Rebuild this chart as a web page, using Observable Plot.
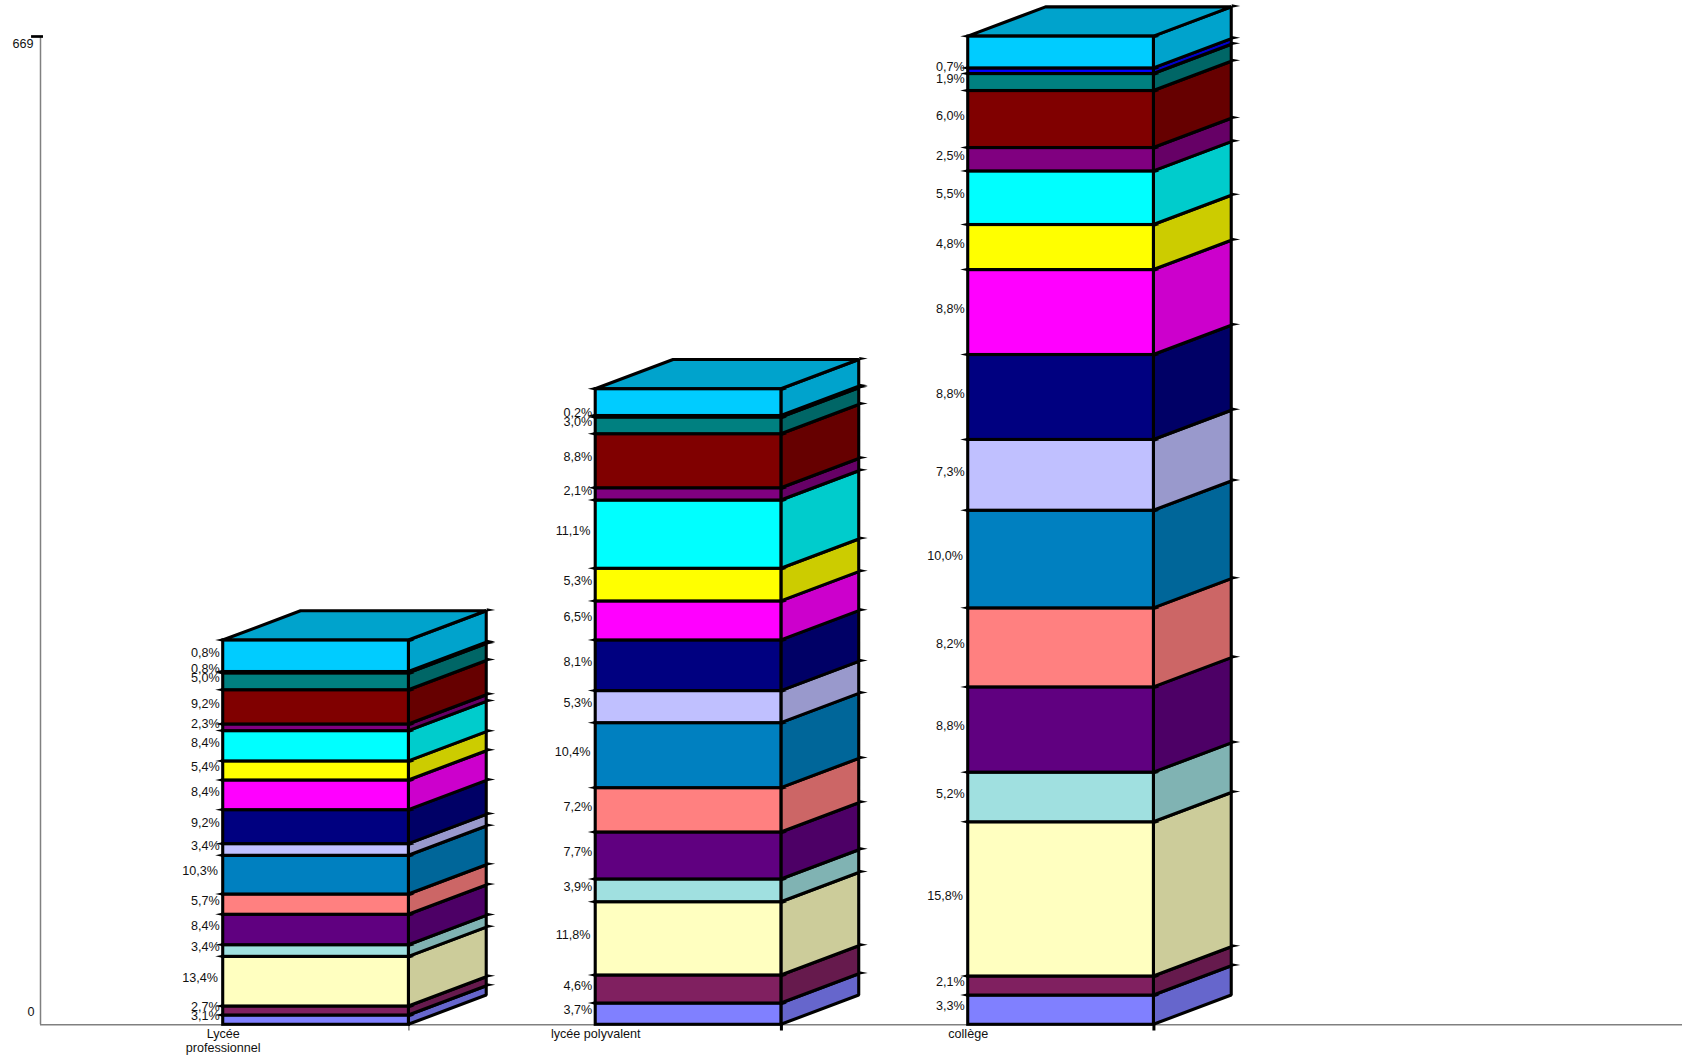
<!DOCTYPE html>
<html lang="fr">
<head>
<meta charset="utf-8">
<title>Effectifs par établissement</title>
<style>
html, body { margin: 0; padding: 0; background: #fff; }
svg { display: block; }
</style>
<script src="https://cdn.jsdelivr.net/npm/d3@7"></script>
<script src="https://cdn.jsdelivr.net/npm/@observablehq/plot@0.6"></script>
</head>
<body>
<div id="chart"></div>
<script>
// Data, bottom of the stack first
const categories = ["Lycée\nprofessionnel", "lycée polyvalent", "collège"];
const lyceeProValues = [6.3, 6.1, 33.6, 7.9, 20.6, 13.7, 26.2, 7.9, 23, 20.1, 12.9, 20.5, 4.5, 23.2, 11.4, 0.9, 21.3];
const lyceePolyValues = [14.4, 19, 49.6, 15.4, 31.8, 30, 44, 21.7, 34.3, 26.4, 22.1, 46.2, 8.3, 36.6, 11.3, 1, 18.1];
const collegeValues = [19.8, 12.9, 104.4, 33.6, 57.7, 53.5, 66.1, 47.9, 57.5, 57.5, 30.5, 36.3, 15.8, 38.6, 11.5, 3.8, 21.5];
const lyceeProLabels = ["3,1%", "2,7%", "13,4%", "3,4%", "8,4%", "5,7%", "10,3%", "3,4%", "9,2%", "8,4%", "5,4%", "8,4%", "2,3%", "9,2%", "5,0%", "0,8%", "0,8%"];
const lyceePolyLabels = ["3,7%", "4,6%", "11,8%", "3,9%", "7,7%", "7,2%", "10,4%", "5,3%", "8,1%", "6,5%", "5,3%", "11,1%", "2,1%", "8,8%", "3,0%", "0,2%", ""];
const collegeLabels = ["3,3%", "2,1%", "15,8%", "5,2%", "8,8%", "8,2%", "10,0%", "7,3%", "8,8%", "8,8%", "4,8%", "5,5%", "2,5%", "6,0%", "1,9%", "0,7%", ""];
const frontColors = ["#8080FF", "#802060", "#FFFFC0", "#A0E0E0", "#600080", "#FF8080", "#0080C0", "#C0C0FF", "#000080", "#FF00FF", "#FFFF00", "#00FFFF", "#800080", "#800000", "#008080", "#0000FF", "#00CCFF"];
const sideColors = ["#6666CC", "#661A4D", "#CCCC9A", "#80B3B3", "#4D0066", "#CC6666", "#006699", "#9999CC", "#000066", "#CC00CC", "#CCCC00", "#00CCCC", "#660066", "#660000", "#006666", "#0000CC", "#00A3CC"];
const yTicks = [0, 669];

// Layout, in scale units
const slotCount = 4.408, barOffset = 0.4905, barWidth = 0.4985, depthX = 0.2089, depthY = 19.8;

const allValues = [lyceeProValues, lyceePolyValues, collegeValues];
const allLabels = [lyceeProLabels, lyceePolyLabels, collegeLabels];

const segments = allValues.flatMap((values, c) => {
  let sum = 0;
  return values.map((v, s) => {
    const y0 = sum; sum += v;
    const left = c + barOffset, right = left + barWidth;
    return {c, s, y0, y1: sum, left, right, back: right + depthX,
            label: allLabels[c][s], front: frontColors[s], side: sideColors[s]};
  });
});
const sideFaces = segments.flatMap(d => [
  {id: `${d.c}-${d.s}`, x: d.right, y1: d.y0, y2: d.y1, fill: d.side},
  {id: `${d.c}-${d.s}`, x: d.back, y1: d.y0 + depthY, y2: d.y1 + depthY, fill: d.side}
]);
const tops = segments.filter(d => d.s === frontColors.length - 1);
const topFaces = tops.flatMap(d => [
  {id: d.c, x1: d.left, x2: d.right, y: d.y1, fill: d.side},
  {id: d.c, x1: d.left + depthX, x2: d.back, y: d.y1 + depthY, fill: d.side}
]);
const bases = categories.map((name, c) => ({name, c, x: c + barOffset, right: c + barOffset + barWidth}));

const isWide = d => d.label.length > 4;
const textStyle = {fontFamily: "Liberation Sans", fontSize: 12.6, fill: "#111"};
const spikeStyle = {r: 1.7, fill: "#000", fillOpacity: 1, stroke: "none"};
const faceStyle = {stroke: "#000", strokeWidth: 3.1, strokeLinejoin: "miter"};

const chart = Plot.plot({
  width: 1682,
  height: 1058,
  marginTop: 0, marginRight: 0, marginBottom: 0, marginLeft: 0,
  style: {background: "#fff", overflow: "visible"},
  x: {type: "linear", domain: [0, slotCount], range: [40, 1682], axis: null},
  y: {type: "linear", domain: [0, 669], range: [1024.3, 36], axis: null},
  color: {type: "identity"},
  marks: [
    // axes
    Plot.ruleY([0], {x1: 0, x2: slotCount, stroke: "#808080", strokeWidth: 1.5}),
    Plot.ruleX([0], {y1: 0, y2: 669, stroke: "#808080", strokeWidth: 1.5}),
    Plot.ruleY([669], {x1: -0.024, x2: 0.008, stroke: "#000", strokeWidth: 2.7}),
    // base ticks under the front right corner
    Plot.ruleX(bases.filter(d => d.c === 0), {x: "right", y1: 0, y2: -4.2, stroke: "#808080", strokeWidth: 1.5}),
    Plot.ruleX(bases.filter(d => d.c > 0), {x: "right", y1: 0, y2: -4.2, stroke: "#000", strokeWidth: 3}),
    // faces
    Plot.area(sideFaces, {x1: "x", y1: "y1", y2: "y2", z: "id", fill: "fill", ...faceStyle}),
    Plot.area(topFaces, {x1: "x1", x2: "x2", y1: "y", z: "id", fill: "fill", ...faceStyle}),
    Plot.rect(segments, {x1: "left", x2: "right", y1: "y0", y2: "y1", fill: "front", ...faceStyle}),
    // small tapered ticks on each stack boundary
    Plot.spike(segments, {x: "left", y: "y1", rotate: -90, length: 8, dy: -0.5, ...spikeStyle}),
    Plot.spike(segments, {x: "right", y: "y1", rotate: 90, length: 5.5, ...spikeStyle}),
    Plot.spike(segments, {x: "back", y: d => d.y1 + depthY, rotate: 90, length: 8.5, dy: -1.4, ...spikeStyle}),
    // percentage labels
    Plot.text(segments.filter(d => !isWide(d)), {x: "left", y: d => (d.y0 + d.y1) / 2, text: "label", textAnchor: "end", dx: -3.5, dy: -3.8, ...textStyle}),
    Plot.text(segments.filter(isWide), {x: "left", y: d => (d.y0 + d.y1) / 2, text: "label", textAnchor: "end", dx: -5.3, dy: -3.8, ...textStyle}),
    // axis labels
    Plot.text(yTicks.filter(d => d > 0), {x: 0, y: d => d, text: d => String(d), textAnchor: "end", dx: -7, dy: 7, ...textStyle}),
    Plot.text(yTicks.filter(d => d === 0), {x: 0, y: d => d, text: d => String(d), textAnchor: "end", dx: -6, dy: -13, ...textStyle}),
    Plot.text(bases, {x: "x", y: 0, text: "name", lineAnchor: "top", dy: 3.5, lineHeight: 1.11, ...textStyle})
  ]
});
document.getElementById("chart").appendChild(chart);
</script>
</body>
</html>
